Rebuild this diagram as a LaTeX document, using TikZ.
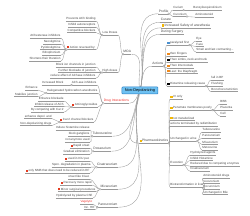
\documentclass[tikz,border=0pt]{standalone}
\usepackage{fontspec}
\setsansfont{Liberation Sans}
\definecolor{linegray}{HTML}{9A9A9A}
\definecolor{textgray}{HTML}{444444}
\definecolor{rootfill}{HTML}{6EC1F2}
\definecolor{rootblue}{HTML}{2A7FC4}
\definecolor{iconred}{HTML}{E53A1E}
\definecolor{iconyellow}{HTML}{F2B705}
\definecolor{iconorange}{HTML}{F08A1C}
\definecolor{iconblue}{HTML}{4A90D0}
\definecolor{topicred}{HTML}{F0302A}
\newcommand{\mmicon}[1]{\textcolor{#1}{\rule[-0.2pt]{2.2pt}{2.2pt}}\hspace{0.5pt}}
\tikzset{
  link/.style={draw=linegray, line width=0.35pt},
  leaf/.style={font=\sffamily\fontsize{3}{3.6}\selectfont, text=textgray,
    inner xsep=0.3pt, inner ysep=0.4pt, text height=2.3pt, text depth=0.7pt,
    append after command={(\tikzlastnode.south west) edge[link] (\tikzlastnode.south east)}},
  branch/.style={leaf, font=\sffamily\fontsize{3.3}{4}\selectfont, text height=2.5pt, text depth=0.8pt},
  lft/.style={anchor=east},
  rgt/.style={anchor=west},
  rto/.style={out=0, in=180, distance=3pt},
  lto/.style={out=180, in=0, distance=3pt},
  fold/.style={draw=linegray, fill=white, line width=0.3pt},
  rootnode/.style={draw=rootblue, fill=rootfill, line width=0.5pt, rounded corners=0.8pt,
    minimum width=36pt, minimum height=7pt, inner sep=0pt, text=black,
    font=\sffamily\fontsize{3.9}{4.5}\selectfont}
}
\begin{document}
\begin{tikzpicture}[x=1pt, y=-1pt]
  \useasboundingbox (0,0) rectangle (250,216);
  \coordinate (rootc) at (140,90.5);

  % MOA
  \node[branch, lft] (moa) at (131.5,52) {MOA};
  \node[leaf, lft] (low) at (118,33) {Low Doses};
  \node[leaf, lft] (prev) at (96,19) {Prevents ACh binding};
  \node[leaf, lft] (inhib) at (96,25) {Inhibit autoreceptors};
  \node[leaf, lft] (comp) at (96,30.5) {Competitive blockers};
  \node[leaf, lft] (rev) at (96,47.5) {\mmicon{iconred}Action reversed by:};
  \node[leaf, lft] (anti) at (61,36) {AChesterase inhibitors};
  \node[leaf, lft] (neo) at (61,42) {Neostigmine};
  \node[leaf, lft] (pyr) at (61,47.5) {Pyridostigmine};
  \node[leaf, lft] (edr) at (61,53) {Edrophonium};
  \node[leaf, lft] (short) at (61,59) {Shortens their Duration};
  \node[leaf, lft] (high) at (118,70.5) {High doses};
  \node[leaf, lft] (ion) at (96,65) {Block ion channels in junction};
  \node[leaf, lft] (further) at (96,70.5) {Further blockade of junction};
  \node[leaf, lft] (reduce) at (96,76) {reduce effect of AChase inhibitors};

  % drug interactions
  \node[branch, lft, text=topicred] (drug) at (129.5,101) {Drug Interactions};
  \node[leaf, lft] (ache) at (97,83) {ACh-ase inhibitors};
  \node[leaf, lft] (incr) at (64,83) {Increased Block};
  \node[leaf, lft] (halo) at (98,91) {Halogenated hydrocarbon anesthetics};
  \node[leaf, lft] (enh) at (38,88) {Enhance};
  \node[leaf, lft] (stab) at (38,94.5) {Stabilize junction};
  \node[leaf, lft] (amino) at (98,105) {\mmicon{iconred}Aminoglycosides};
  \node[leaf, lft] (enhb) at (64,99) {Enhance blockade};
  \node[leaf, lft] (inhr) at (64,104.5) {Inhibit release of ACh};
  \node[leaf, lft] (byc) at (64,110) {By competing with Ca+2};
  \node[leaf, lft] (ca) at (94,120) {\mmicon{iconred}Ca+2 channel blockers};
  \node[leaf, lft] (endep) at (52,116.5) {enhance depol. and};
  \node[leaf, lft] (nondep) at (52,123.5) {Non-depolarizing drugs};

  % drugs
  \node[branch, lft] (tubo) at (112.5,134) {Tubocurarine};
  \node[leaf, lft] (hist) at (90,128) {Induce histamine release};
  \node[leaf, lft] (gang) at (90,134) {block ganglions};
  \node[leaf, lft] (notu) at (90,140) {not anymore used};
  \node[branch, lft] (doxa) at (111.5,149) {Doxacurium};
  \node[leaf, lft] (rapid) at (90,146) {\mmicon{iconred}Rapid onset};
  \node[leaf, lft] (grad) at (90,152) {Gradual elimination};
  \node[branch, lft] (cis) at (118,165) {Cisatracurium};
  \node[leaf, lft] (icu) at (90,159) {\mmicon{iconred}used in ICU pat.};
  \node[leaf, lft] (spon) at (91,165) {Spon. degradation in plasma};
  \node[leaf, lft] (only) at (90,171) {\mmicon{iconred}only NMB that does need to be reduced in RF};
  \node[branch, lft] (miva) at (118,187) {Mivacurium};
  \node[leaf, lft] (onset) at (90,177) {onset like Cisat.};
  \node[leaf, lft] (recov) at (92,183) {\mmicon{iconred}Recovery more rapid};
  \node[leaf, lft] (minor) at (96,189.5) {\mmicon{iconred}Minor surgical procedures};
  \node[leaf, lft] (hydro) at (93,196) {Hydrolyzed by plasma ChE};
  \node[branch, lft] (panc) at (118,205) {Pancuronium};
  \node[leaf, lft, text=topicred] (vago) at (93,202) {Vagolytic};
  \node[leaf, lft] (inchr) at (95,207.5) {Inc. HR};

  % profile
  \node[branch, rgt] (prof) at (158.5,11.5) {Profile};
  \node[leaf, rgt] (curium) at (173,8) {Curium};
  \node[leaf, rgt] (benzy) at (193,8) {Benzylisoquinolinium};
  \node[leaf, rgt] (curon) at (173,14.5) {Curonium};
  \node[leaf, rgt] (amst1) at (195,15) {Aminosteroid};
  \node[branch, rgt] (curare) at (160.5,20) {Curare};
  \node[branch, rgt] (safety) at (161.5,25.5) {\mmicon{iconyellow}Increased Safety of anesthesia};
  \node[branch, rgt] (surg) at (160.5,32) {During Surgery};

  % actions
  \node[branch, rgt] (act) at (152,64) {Actions};
  \node[leaf, rgt] (para) at (167,43) {\mmicon{iconblue}paralyzed first};
  \node[leaf, rgt] (eye) at (196,39) {Eye};
  \node[leaf, rgt] (face) at (196,44.5) {Face};
  \node[leaf, rgt] (small) at (196,50) {Small and fast contracting...};
  \node[leaf, rgt] (fing) at (167,54) {\mmicon{iconorange}then Fingers};
  \node[leaf, rgt] (limbs) at (167,60) {\mmicon{black}Then Limbs, neck and trunk};
  \node[leaf, rgt] (inter) at (167,66) {\mmicon{iconorange}Then Intercostals};
  \node[leaf, rgt] (last) at (167,71.5) {\mmicon{iconorange}Last: the Diaphragm};
  \node[leaf, rgt] (histr) at (167,84) {\mmicon{black}Histamine releasing cause};
  \node[leaf, rgt] (fall) at (211,78) {fall in BP};
  \node[leaf, rgt] (flush) at (211,84) {Flushing};
  \node[leaf, rgt] (bronch) at (211,89.5) {Bronchoconstriction};

  % pharmacokinetics
  \node[branch, rgt] (pk) at (139,141) {\mmicon{iconyellow}Pharmacokinetics};
  \node[leaf, rgt] (iv) at (170,97) {\mmicon{iconyellow}IV only};
  \node[leaf, rgt] (pen) at (170,108) {\mmicon{iconyellow}Penetrate membranes poorly};
  \node[leaf, rgt] (bbb) at (220,102) {BBB};
  \node[leaf, rgt] (plac) at (220,108) {Placenta};
  \node[leaf, rgt] (cell) at (220,114) {Cell};
  \node[leaf, rgt] (notm) at (170,118.5) {\mmicon{iconyellow}not metabolized};
  \node[leaf, rgt] (term) at (170,124) {actions terminated by redistribution};
  \node[leaf, rgt] (urine) at (170,139) {Unchanged in urine};
  \node[leaf, rgt] (tubo2) at (202,130) {Tubocurarine};
  \node[leaf, rgt] (panc2) at (202,136) {Pancuronium};
  \node[leaf, rgt] (miva2) at (202,142.5) {Mivacurium};
  \node[leaf, rgt] (meto) at (202,148) {Metocurine};
  \node[leaf, rgt] (excr) at (170,163) {Excretion};
  \node[leaf, rgt] (hyd) at (190,153) {Hydrolyzed agents};
  \node[leaf, rgt] (inhh) at (190,158.5) {Inhibit Histamine};
  \node[leaf, rgt] (redu) at (190,164) {Reduced due to competing enzymes};
  \node[leaf, rgt] (cis2) at (190,169) {Cisatracurium};
  \node[leaf, rgt] (bio) at (170,185) {Biotransformation in liver};
  \node[leaf, rgt] (amst) at (203,176) {Aminosteroid drugs};
  \node[leaf, rgt] (vec) at (203,181.5) {Vecuronium};
  \node[leaf, rgt] (roc) at (203,187) {Rocuronium};
  \node[leaf, rgt] (bile) at (203,192.5) {Unchanged in Bile};

  % links from the root
  \foreach \c in {prof,curare,safety,surg,act}
    \draw[link] (rootc) to[out=75, in=180] (\c.south west);
  \draw[link] (rootc) to[out=265, in=180] (pk.south west);
  \draw[link] (rootc) to[out=105, in=0] (moa.south east);
  \draw[link] (rootc) to[out=240, in=0] (drug.south east);
  \foreach \c in {tubo,doxa,cis,miva,panc}
    \draw[link] (rootc) to[out=250, in=0] (\c.south east);

  % links on the left
  \foreach \p/\c in {moa/low, moa/high, low/prev, low/inhib, low/comp, low/rev,
      rev/anti, rev/neo, rev/pyr, rev/edr, rev/short, high/ion, high/further, high/reduce,
      drug/ache, drug/halo, drug/amino, drug/ca, ache/incr, halo/enh, halo/stab,
      amino/enhb, amino/inhr, amino/byc, ca/endep, ca/nondep,
      tubo/hist, tubo/gang, tubo/notu, doxa/rapid, doxa/grad, cis/icu, cis/spon, cis/only,
      miva/onset, miva/recov, miva/minor, miva/hydro, panc/vago, panc/inchr}
    \draw[link] (\p.south west) to[lto] (\c.south east);

  % links on the right
  \foreach \p/\c in {prof/curium, prof/curon, curium/benzy, curon/amst1,
      act/para, act/fing, act/limbs, act/inter, act/last, act/histr,
      para/eye, para/face, para/small, histr/fall, histr/flush, histr/bronch,
      pk/iv, pk/pen, pk/notm, pk/term, pk/urine, pk/excr, pk/bio,
      pen/bbb, pen/plac, pen/cell, urine/tubo2, urine/panc2, urine/miva2, urine/meto,
      excr/hyd, excr/inhh, excr/redu, excr/cis2, bio/amst, bio/vec, bio/roc, bio/bile}
    \draw[link] (\p.south east) to[rto] (\c.south west);

  % fold circles
  \foreach \p in {moa,low,rev,high,drug,ache,halo,amino,ca,tubo,doxa,cis,miva,panc}
    \draw[fold] (\p.south west) circle (0.9pt);
  \foreach \p in {prof,curium,curon,act,para,histr,pk,pen,urine,excr,bio}
    \draw[fold] (\p.south east) circle (0.9pt);

  \node[rootnode] (root) at (rootc) {Non-Depolarizing};
\end{tikzpicture}
\end{document}
